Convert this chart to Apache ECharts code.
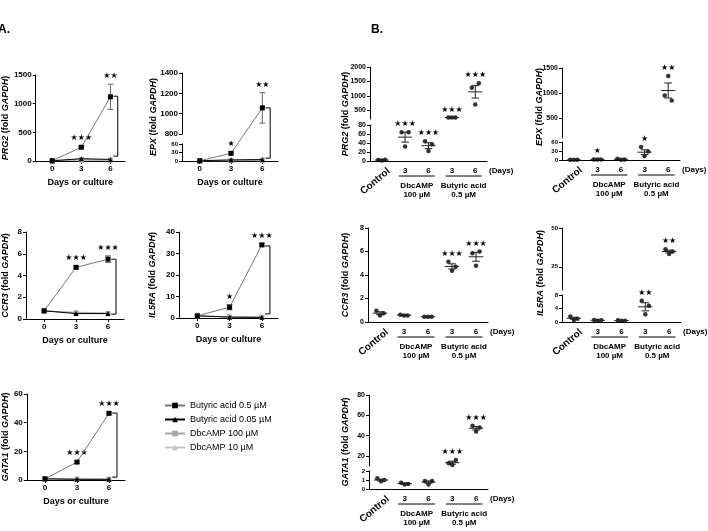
<!DOCTYPE html>
<html>
<head>
<meta charset="utf-8">
<script src="https://cdn.jsdelivr.net/npm/echarts@6/dist/echarts.min.js"></script>
<style>
html, body { margin: 0; padding: 0; background: #fff; }
#chart { width: 708px; height: 531px; }
</style>
</head>
<body>
<div id="chart"></div>
<script>
// ---------- panel A : time course, mean per treatment (rows follow A_NAMES) ----------
const A_DAYS = [0, 3, 6];
const A_NAMES = ['Butyric acid 0.5 µM', 'Butyric acid 0.05 µM', 'DbcAMP 100 µM', 'DbcAMP 10 µM'];

const prg2A = [[5, 240, 1120], [5, 40, 28], [5, 25, 18], [5, 10, 8]];
const prg2AErr = [0, 15, 220];
const prg2ABracket = [1130, 85];
const prg2AStars = ['', '***', '**'];

const epxA = [[1, 27, 1057], [1, 4, 5], [1, 2, 3], [1, 1, 2]];
const epxAErr = [0, 5, 150];
const epxABracket = [1057, 10];
const epxAStars = ['', '*', '**'];

const ccr3A = [[0.75, 4.75, 5.5], [0.75, 0.5, 0.5], [0.75, 0.58, 0.52], [0.75, 0.62, 0.56]];
const ccr3AErr = [0, 0.12, 0.3];
const ccr3ABracket = [5.5, 0.45];
const ccr3AStars = ['', '***', '***'];

const il5raA = [[1, 5, 34], [1, 0.4, 0.3], [1, 0.5, 0.4], [1, 0.5, 0.4]];
const il5raAErr = [0, 1.2, 0.6];
const il5raABracket = [33.5, 1.9];
const il5raAStars = ['', '*', '***'];

const gata1A = [[0.8, 12.5, 46.5], [0.8, 0.5, 0.5], [0.8, 0.6, 0.5], [0.8, 0.6, 0.6]];
const gata1AErr = [0, 0.8, 0.8];
const gata1ABracket = [46.7, 2];
const gata1AStars = ['', '***', '***'];

// ---------- panel B : individual replicates, mean, SEM ----------
const B_GROUPS = ['Control', '3', '6', '3', '6'];

const prg2BDots = [[2, 1, 3], [64, 32, 64], [44, 22, 37], [252, 250, 248], [1280, 700, 1440]];
const prg2BMean = [2, 53, 34, 250, 1140];
const prg2BSem = [0.5, 11, 6.5, 1, 215];
const prg2BStars = ['', '***', '***', '***', '***'];
const prg2BTicksHi = [500, 1000, 1500, 2000];
const prg2BTicksLo = [0, 20, 40, 60, 80];

const epxBDots = [[0.5, 0.5, 0.5], [2, 2, 2], [4, 1, 2], [43, 13, 28], [950, 1340, 850]];
const epxBMean = [0.5, 2, 2.3, 26, 1050];
const epxBSem = [0, 0.2, 0.9, 8, 150];
const epxBStars = ['', '*', '', '*', '**'];
const epxBTicksHi = [500, 1000, 1500];
const epxBTicksLo = [0, 30, 60];

const ccr3BDots = [[0.95, 0.55, 0.75], [0.62, 0.56, 0.56], [0.45, 0.45, 0.45], [5.13, 4.37, 4.7], [5.86, 4.79, 6.0]];
const ccr3BMean = [0.75, 0.58, 0.45, 4.73, 5.55];
const ccr3BSem = [0.12, 0.02, 0.01, 0.22, 0.38];
const ccr3BStars = ['', '', '', '***', '***'];
const ccr3BTicks = [0, 2, 4, 6, 8];

const il5raBDots = [[1.6, 0.6, 1.0], [0.6, 0.4, 0.5], [0.5, 0.4, 0.4], [6.3, 2.3, 4.8], [36.3, 33.3, 34.8]];
const il5raBMean = [1.1, 0.5, 0.43, 4.5, 34.8];
const il5raBSem = [0.3, 0.06, 0.03, 1.2, 0.9];
const il5raBStars = ['', '', '', '**', '**'];
const il5raBTicksHi = [25, 50];
const il5raBTicksLo = [0, 4, 8];

const gata1BDots = [[1.2, 0.85, 1.0], [0.7, 0.5, 0.55], [0.9, 0.5, 0.9], [12.8, 11, 16], [49.8, 44, 47.9]];
const gata1BMean = [1.0, 0.6, 0.77, 13.3, 47.2];
const gata1BSem = [0.1, 0.06, 0.13, 1.5, 1.7];
const gata1BStars = ['', '', '', '***', '***'];
const gata1BTicksHi = [20, 40, 60, 80];
const gata1BTicksLo = [0, 1, 2];

// ---------- style / layout ----------
const FONT = 'Liberation Sans';
const STAR_FONT = 'DejaVu Sans';
const A_XMIN = -1.7, A_XMAX = 7.5;
const BR_X0 = 6.3, BR_X1 = 6.75;      // bracket in panel A
const JITTER = [-0.15, 0, 0.15];       // replicate dots in panel B
const MEAN_HALF = 0.3, CAP_HALF = 0.16;
const A_STYLE = [
  {symbol: 'rect', size: 5, color: '#000', line: '#777'},
  {symbol: 'triangle', size: 5, color: '#000', line: '#000'},
  {symbol: 'rect', size: 5, color: '#a6a6a6', line: '#a6a6a6'},
  {symbol: 'triangle', size: 5, color: '#c4c4c4', line: '#c4c4c4'}
];
const plain = v => String(v);

const chart = echarts.init(document.getElementById('chart'));
const grids = [], xAxis = [], yAxis = [], series = [], later = [];

function addGrid(left, top, width, height) {
  grids.push({left: left, top: top, width: width, height: height});
  return grids.length - 1;
}

function richName(gene) {
  return '{g|' + gene + '} (fold {g|GAPDH})';
}
const nameStyle = {
  fontSize: 9, fontWeight: 'bold', color: '#000', fontFamily: FONT,
  rich: {g: {fontSize: 9, fontWeight: 'bold', fontStyle: 'italic', color: '#000', fontFamily: FONT}}
};

function aX(gi, show) {
  return {
    type: 'value', gridIndex: gi, min: A_XMIN, max: A_XMAX, show: show,
    splitLine: {show: false},
    axisLine: {show: true, onZero: false, lineStyle: {color: '#000', width: 1}},
    axisTick: {show: true, length: 3, customValues: A_DAYS, lineStyle: {color: '#000'}},
    axisLabel: {customValues: A_DAYS, formatter: plain, margin: 4, fontSize: 8, fontWeight: 'bold', color: '#000', fontFamily: FONT},
    name: 'Days or culture', nameLocation: 'middle', nameGap: 17,
    nameTextStyle: {fontSize: 9, fontWeight: 'bold', color: '#000', fontFamily: FONT}
  };
}

function aY(gi, min, max, interval, gene, nameGap, fs) {
  return {
    type: 'value', gridIndex: gi, min: min, max: max, interval: interval,
    splitLine: {show: false},
    axisLine: {show: true, onZero: false, lineStyle: {color: '#000', width: 1}},
    axisTick: {show: true, length: 3, lineStyle: {color: '#000'}},
    axisLabel: {formatter: plain, margin: 4, fontSize: fs || 8, fontWeight: 'bold', color: '#000', fontFamily: FONT},
    name: gene ? richName(gene) : '', nameLocation: 'middle', nameGap: nameGap || 0,
    nameTextStyle: nameStyle
  };
}

function errItem(params, api) {
  const x = api.value(0);
  const a = api.coord([x, api.value(1)]);
  const b = api.coord([x, api.value(2)]);
  const w = 3;
  const st = {stroke: '#666', lineWidth: 1};
  return {type: 'group', children: [
    {type: 'line', shape: {x1: a[0], y1: a[1], x2: b[0], y2: b[1]}, style: st},
    {type: 'line', shape: {x1: a[0] - w, y1: a[1], x2: a[0] + w, y2: a[1]}, style: st},
    {type: 'line', shape: {x1: b[0] - w, y1: b[1], x2: b[0] + w, y2: b[1]}, style: st}
  ]};
}

function meanSemItem(params, api) {
  const x = api.value(0), m = api.value(1), s = api.value(2);
  const c = api.coord([x, m]);
  const t = api.coord([x, m + s]);
  const b = api.coord([x, m - s]);
  const hw = api.size([MEAN_HALF, 0])[0];
  const cw = api.size([CAP_HALF, 0])[0];
  const st = {stroke: '#222', lineWidth: 1};
  const kids = [{type: 'line', shape: {x1: c[0] - hw, y1: c[1], x2: c[0] + hw, y2: c[1]}, style: st}];
  if (s > 0) {
    kids.push({type: 'line', shape: {x1: t[0], y1: t[1], x2: b[0], y2: b[1]}, style: st});
    kids.push({type: 'line', shape: {x1: t[0] - cw, y1: t[1], x2: t[0] + cw, y2: t[1]}, style: st});
    kids.push({type: 'line', shape: {x1: b[0] - cw, y1: b[1], x2: b[0] + cw, y2: b[1]}, style: st});
  }
  return {type: 'group', children: kids};
}

function starText(p, s) {
  return {
    type: 'text', x: p[0], y: p[1] - 4, silent: true,
    style: {text: s.replace(/\*/g, '\u2605'), fontSize: 8, fontFamily: STAR_FONT, fill: '#000',
      align: 'center', verticalAlign: 'bottom', textAlign: 'center', textVerticalAlign: 'bottom'}
  };
}

function plainText(x, y, text, o) {
  o = o || {};
  return {
    type: 'text', x: x, y: y, rotation: o.rotation || 0, silent: true,
    style: {text: text, fontSize: o.fontSize || 8, fontWeight: o.fontWeight || 'bold',
      fontFamily: FONT, fill: '#000',
      align: o.align || 'center', verticalAlign: o.va || 'middle',
      textAlign: o.align || 'center', textVerticalAlign: o.va || 'middle',
      rich: o.rich}
  };
}

// ----- A series -----
function addASeries(gi, rows, err, bracket, stars, tf) {
  for (let k = rows.length - 1; k >= 0; k--) {
    const st = A_STYLE[k];
    series.push({
      type: 'line', name: A_NAMES[k], xAxisIndex: gi, yAxisIndex: gi,
      data: A_DAYS.map((d, j) => [d, tf(rows[k][j])]),
      symbol: st.symbol, symbolSize: st.size, showSymbol: true,
      itemStyle: {color: st.color}, lineStyle: {color: st.line, width: 1},
      z: 3 + rows.length - k
    });
  }
  series.push({
    type: 'custom', xAxisIndex: gi, yAxisIndex: gi, renderItem: errItem, z: 2,
    encode: {x: 0, y: [1, 2]},
    data: A_DAYS.map((d, j) => [d, tf(rows[0][j] - err[j]), tf(rows[0][j] + err[j])]).filter((r, j) => err[j] > 0)
  });
  series.push({
    type: 'line', xAxisIndex: gi, yAxisIndex: gi, symbol: 'none', z: 2,
    lineStyle: {color: '#000', width: 1},
    data: [[BR_X0, tf(bracket[0])], [BR_X1, tf(bracket[0])], [BR_X1, tf(bracket[1])], [BR_X0, tf(bracket[1])]]
  });
  later.push(() => A_DAYS.map((d, j) => stars[j]
    ? starText(chart.convertToPixel({xAxisIndex: gi, yAxisIndex: gi}, [d, tf(rows[0][j] + err[j])]), stars[j])
    : null).filter(Boolean));
}

function panelA(box, min, max, interval, gene, nameGap, rows, err, bracket, stars) {
  const gi = addGrid(box[0], box[1], box[2], box[3]);
  xAxis.push(aX(gi, true));
  yAxis.push(aY(gi, min, max, interval, gene, nameGap));
  addASeries(gi, rows, err, bracket, stars, v => v);
}

panelA([28, 75, 97, 86], 0, 1500, 500, 'PRG2', 18, prg2A, prg2AErr, prg2ABracket, prg2AStars);

// EPX (A) with broken axis: lower 0-60, upper 800-1400
(function () {
  const left = 182, width = 96, top = 73, hiH = 61, gapH = 10, loH = 17;
  const lo = [0, 60], hi = [800, 1400];
  const tf = v => v <= lo[1]
    ? (v - lo[0]) / (lo[1] - lo[0]) * loH
    : loH + gapH + (v - hi[0]) / (hi[1] - hi[0]) * hiH;
  const gData = addGrid(left, top, width, hiH + gapH + loH);
  xAxis.push(aX(gData, false));
  yAxis.push({
    type: 'value', gridIndex: gData, min: 0, max: hiH + gapH + loH,
    axisLine: {show: false, onZero: false}, axisTick: {show: false}, axisLabel: {show: false}, splitLine: {show: false},
    name: richName('EPX'), nameLocation: 'middle', nameGap: 24, nameTextStyle: nameStyle
  });
  const gHi = addGrid(left, top, width, hiH);
  xAxis.push(aX(gHi, false));
  yAxis.push(aY(gHi, hi[0], hi[1], 200, null));
  const gLo = addGrid(left, top + hiH + gapH, width, loH);
  xAxis.push(aX(gLo, true));
  yAxis.push(aY(gLo, lo[0], lo[1], 30, null, 0, 6));
  addASeries(gData, epxA, epxAErr, epxABracket, epxAStars, tf);
})();

panelA([25, 232, 99, 87], 0, 8, 2, 'CCR3', 16, ccr3A, ccr3AErr, ccr3ABracket, ccr3AStars);
panelA([179, 232, 99, 86], 0, 40, 10, 'IL5RA', 22, il5raA, il5raAErr, il5raABracket, il5raAStars);
panelA([25, 394, 100, 86], 0, 60, 20, 'GATA1', 16, gata1A, gata1AErr, gata1ABracket, gata1AStars);

// ----- B panels -----
function panelB(o) {
  const gis = [];
  o.segs.forEach((s, si) => {
    const gi = addGrid(o.left, s.top, o.width, s.height);
    gis.push(gi);
    xAxis.push({
      type: 'value', gridIndex: gi, min: -0.5, max: 4.5, show: si === 0,
      splitLine: {show: false},
      axisLine: {show: true, onZero: false, lineStyle: {color: '#000', width: 1}},
      axisTick: {show: false},
      axisLabel: {customValues: [1, 2, 3, 4], formatter: v => B_GROUPS[Math.round(v)], margin: 6,
        fontSize: 8, fontWeight: 'bold', color: '#000', fontFamily: FONT}
    });
    yAxis.push({
      type: 'value', gridIndex: gi, min: s.min, max: s.max,
      splitLine: {show: false},
      axisLine: {show: true, onZero: false, lineStyle: {color: '#000', width: 1}},
      axisTick: {show: true, length: 3, customValues: s.ticks, lineStyle: {color: '#000'}},
      axisLabel: {customValues: s.ticks, formatter: plain, margin: 4, fontSize: s.fs || 7, fontWeight: 'bold', color: '#000', fontFamily: FONT}
    });
    const inSeg = i => o.mean[i] >= s.min && o.mean[i] <= s.max;
    const dots = [];
    o.dots.forEach((g, i) => { if (inSeg(i)) g.forEach((v, j) => dots.push([i + JITTER[j], v])); });
    series.push({type: 'scatter', xAxisIndex: gi, yAxisIndex: gi, data: dots, symbolSize: 4.5,
      itemStyle: {color: '#000'}, z: 3});
    series.push({type: 'custom', xAxisIndex: gi, yAxisIndex: gi, renderItem: meanSemItem, z: 4,
      encode: {x: 0, y: 1},
      data: o.mean.map((m, i) => [i, m, o.sem[i]]).filter((d, i) => inSeg(i))});
    later.push(() => o.stars.map((st, i) => {
      if (!st || !inSeg(i)) return null;
      const top = Math.max(Math.max.apply(null, o.dots[i]), o.mean[i] + o.sem[i]);
      return starText(chart.convertToPixel({xAxisIndex: gi, yAxisIndex: gi}, [i, top]), st);
    }).filter(Boolean));
  });
  // labels under the axis + y name
  later.push(() => {
    const gi = gis[0], ymin = o.segs[0].min;
    const px = x => chart.convertToPixel({xAxisIndex: gi, yAxisIndex: gi}, [x, ymin]);
    const base = px(0)[1];
    const out = [];
    out.push(plainText(px(0)[0] + 4, base + 5, B_GROUPS[0],
      {fontSize: 10, align: 'right', va: 'top', rotation: 40 * Math.PI / 180}));
    [[1, 2, 'DbcAMP', '100 µM'], [3, 4, 'Butyric acid', '0.5 µM']].forEach(g => {
      const a = px(g[0] - 0.27), b = px(g[1] + 0.27);
      out.push({type: 'line', silent: true, shape: {x1: a[0], y1: base + 15, x2: b[0], y2: base + 15},
        style: {stroke: '#000', lineWidth: 1}});
      const mid = (a[0] + b[0]) / 2;
      out.push(plainText(mid, base + 25, g[2]));
      out.push(plainText(mid, base + 34, g[3]));
    });
    out.push(plainText(px(4.5)[0] + 2, base + 10, '(Days)', {align: 'left'}));
    out.push(plainText(o.nameXY[0], o.nameXY[1], richName(o.gene),
      {fontSize: 9, rotation: Math.PI / 2, rich: nameStyle.rich}));
    return out;
  });
}

panelB({gene: 'PRG2', left: 370, width: 117, nameXY: [346, 114],
  dots: prg2BDots, mean: prg2BMean, sem: prg2BSem, stars: prg2BStars,
  segs: [{top: 125, height: 36, min: 0, max: 80, ticks: prg2BTicksLo},
         {top: 67, height: 52, min: 200, max: 2000, ticks: prg2BTicksHi}]});

panelB({gene: 'EPX', left: 562, width: 118, nameXY: [540, 107],
  dots: epxBDots, mean: epxBMean, sem: epxBSem, stars: epxBStars,
  segs: [{top: 142, height: 18, min: 0, max: 60, ticks: epxBTicksLo, fs: 6},
         {top: 68, height: 70, min: 100, max: 1500, ticks: epxBTicksHi}]});

panelB({gene: 'CCR3', left: 368, width: 120, nameXY: [346, 275],
  dots: ccr3BDots, mean: ccr3BMean, sem: ccr3BSem, stars: ccr3BStars,
  segs: [{top: 228, height: 94, min: 0, max: 8, ticks: ccr3BTicks}]});

panelB({gene: 'IL5RA', left: 562, width: 119, nameXY: [541, 273],
  dots: il5raBDots, mean: il5raBMean, sem: il5raBSem, stars: il5raBStars,
  segs: [{top: 295, height: 27, min: 0, max: 8, ticks: il5raBTicksLo, fs: 6},
         {top: 228, height: 62, min: 10, max: 50, ticks: il5raBTicksHi, fs: 6}]});

panelB({gene: 'GATA1', left: 369, width: 119, nameXY: [346, 442],
  dots: gata1BDots, mean: gata1BMean, sem: gata1BSem, stars: gata1BStars,
  segs: [{top: 471, height: 18, min: 0, max: 2, ticks: gata1BTicksLo, fs: 6},
         {top: 395, height: 71, min: 10, max: 80, ticks: gata1BTicksHi}]});

chart.setOption({
  animation: false,
  backgroundColor: '#fff',
  grid: grids,
  xAxis: xAxis,
  yAxis: yAxis,
  legend: {
    data: A_NAMES, left: 159, top: 396, orient: 'vertical',
    itemWidth: 20, itemHeight: 7, itemGap: 5, selectedMode: false,
    textStyle: {fontSize: 9, color: '#000', fontFamily: FONT}
  },
  series: series
});

let graphics = [
  plainText(-2, 30, 'A.', {fontSize: 12, align: 'left'}),
  plainText(371, 30, 'B.', {fontSize: 12, align: 'left'})
];
later.forEach(fn => { graphics = graphics.concat(fn()); });
chart.setOption({graphic: graphics});
</script>
</body>
</html>
